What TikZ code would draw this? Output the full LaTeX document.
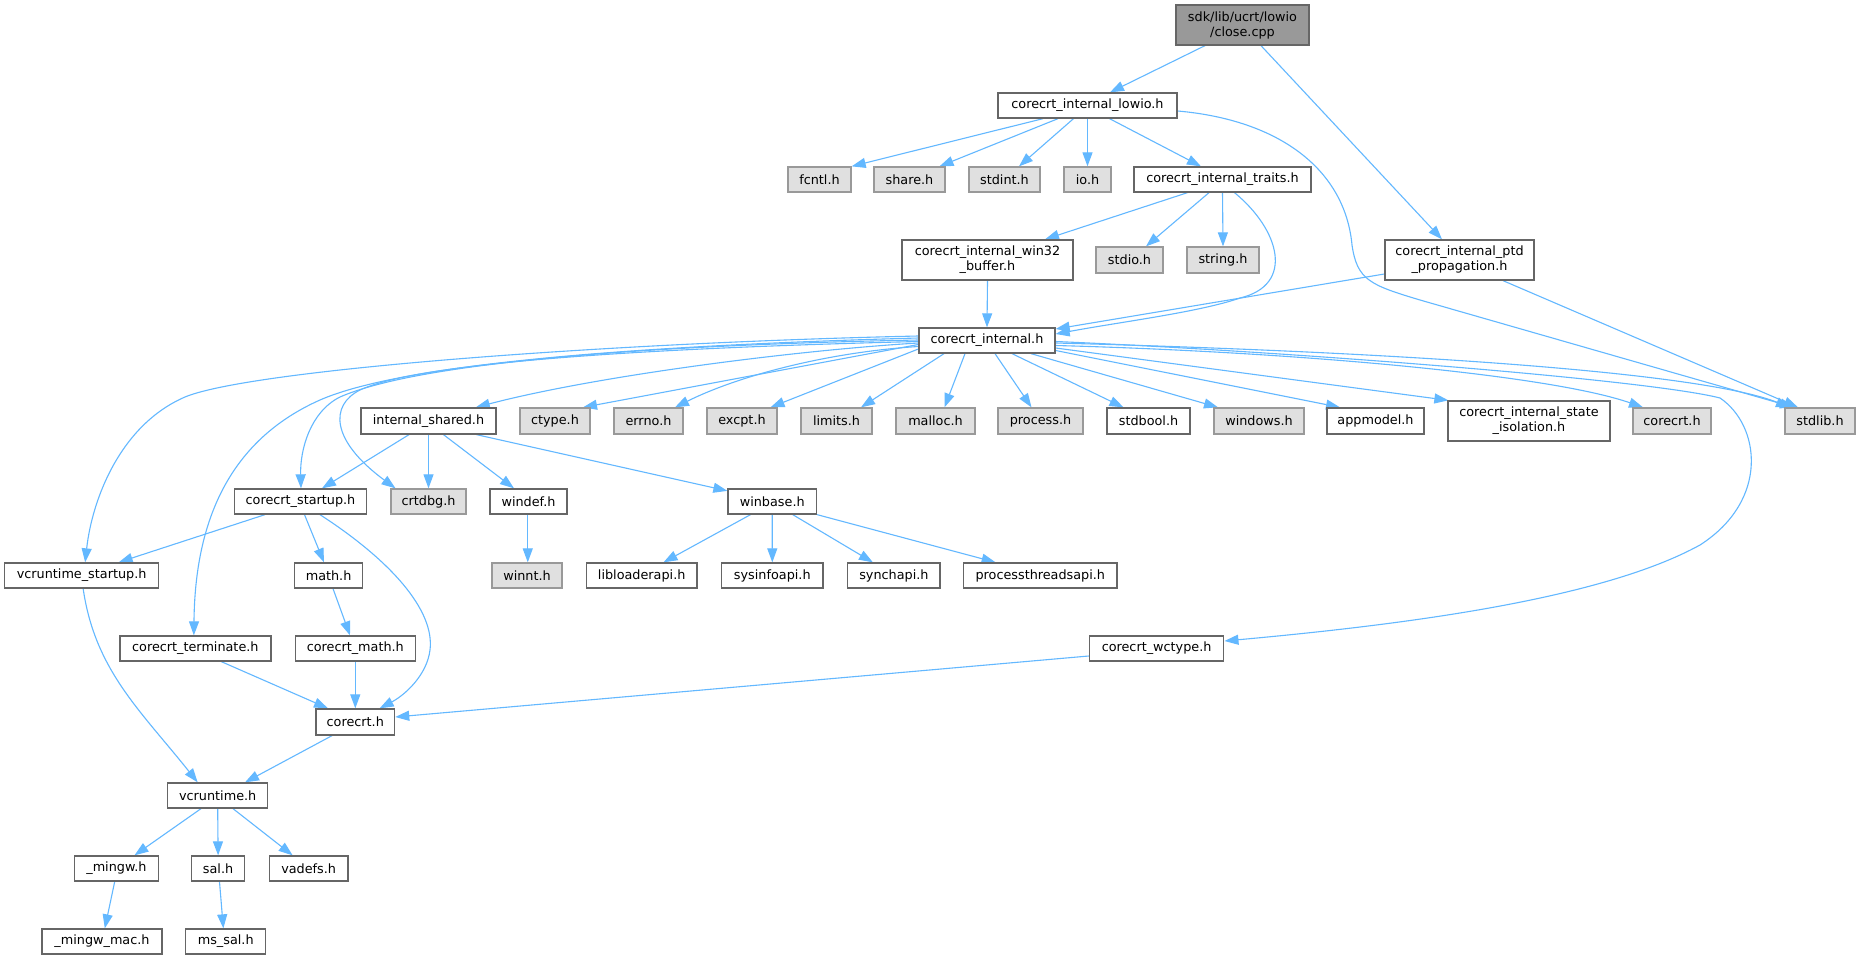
\documentclass[tikz,border=0pt]{standalone}
\usepackage{fontspec}
\setmainfont{DejaVu Sans}
\usetikzlibrary{arrows.meta}
\definecolor{eb}{HTML}{63B8FF}
\definecolor{c66}{HTML}{666666}
\definecolor{c99}{HTML}{999999}
\definecolor{cE0}{HTML}{E0E0E0}
\newcommand\nodefont{\fontsize{12.8}{15}\selectfont}
\pgfdeclarelayer{bg}
\pgfdeclarelayer{paper}
\pgfsetlayers{paper,bg,main}
\tikzset{
  base/.style={rectangle, inner sep=0pt, font=\nodefont, text=black, align=center},
  wbox/.style={base, draw=c66, fill=white, line width=1.3pt},
  gbox/.style={base, draw=c99, fill=cE0, line width=1.3pt},
  rbox/.style={base, draw=c66, fill=c99, line width=1.3pt},
  edge/.style={draw=eb, line width=1.1pt, -{Triangle[length=14pt,width=10pt]}},
  sz/.style 2 args={minimum width=#1pt, minimum height=#2pt}
}
\begin{document}
\begin{tikzpicture}[x=1pt,y=-1pt]
\begin{pgfonlayer}{paper}
\fill[white] (0,0) rectangle (1871,960);
\end{pgfonlayer}
\useasboundingbox (0,0) rectangle (1871,960);
% nodes
\node[rbox, sz={133}{40}] (root) at (1242.5,25) {sdk/lib/ucrt/lowio\\/close.cpp};
\node[wbox, sz={179}{25}] (lowio) at (1087.5,105.5) {corecrt\_internal\_lowio.h};
\node[gbox, sz={63}{25}] (fcntl) at (819.5,179.5) {fcntl.h};
\node[gbox, sz={71}{25}] (share) at (909.5,179.5) {share.h};
\node[gbox, sz={71}{25}] (stdint) at (1004.5,179.5) {stdint.h};
\node[gbox, sz={47}{25}] (io) at (1087.5,179.5) {io.h};
\node[wbox, sz={177}{25}] (traits) at (1222.5,179.5) {corecrt\_internal\_traits.h};
\node[wbox, sz={171}{40}] (win32) at (987.5,260) {corecrt\_internal\_win32\\\_buffer.h};
\node[gbox, sz={67}{26}] (stdio) at (1129.5,260) {stdio.h};
\node[gbox, sz={72}{26}] (nstring) at (1223,260) {string.h};
\node[wbox, sz={149}{40}] (ptd) at (1459.5,260) {corecrt\_internal\_ptd\\\_propagation.h};
\node[wbox, sz={136}{25}] (cint) at (987,340.5) {corecrt\_internal.h};
\node[wbox, sz={135}{26}] (ishared) at (428.5,421) {internal\_shared.h};
\node[gbox, sz={70}{26}] (ctype) at (555,421) {ctype.h};
\node[gbox, sz={69}{26}] (errno) at (648.5,421) {errno.h};
\node[gbox, sz={70}{26}] (excpt) at (742,421) {excpt.h};
\node[gbox, sz={71}{26}] (limits) at (836.5,421) {limits.h};
\node[gbox, sz={79}{26}] (malloc) at (935.5,421) {malloc.h};
\node[gbox, sz={85}{26}] (nprocess) at (1040.5,421) {process.h};
\node[wbox, sz={83}{26}] (stdbool) at (1148.5,421) {stdbool.h};
\node[gbox, sz={90}{26}] (nwindows) at (1259,421) {windows.h};
\node[wbox, sz={97}{26}] (appmodel) at (1375.5,421) {appmodel.h};
\node[wbox, sz={162}{40}] (stateiso) at (1529,421) {corecrt\_internal\_state\\\_isolation.h};
\node[gbox, sz={78}{26}] (corecrtg) at (1672,421) {corecrt.h};
\node[gbox, sz={70}{26}] (stdlib) at (1820,421) {stdlib.h};
\node[wbox, sz={132}{25}] (cstartup) at (300.5,501.5) {corecrt\_startup.h};
\node[gbox, sz={75}{25}] (crtdbg) at (428.5,501.5) {crtdbg.h};
\node[wbox, sz={77}{25}] (windef) at (528.5,501.5) {windef.h};
\node[wbox, sz={88.5}{25}] (winbase) at (772.25,501.5) {winbase.h};
\node[wbox, sz={154}{25}] (vstartup) at (81.65,575.5) {vcruntime\_startup.h};
\node[wbox, sz={68}{25}] (nmath) at (328.6,575.5) {math.h};
\node[gbox, sz={70}{25}] (winnt) at (527,575.5) {winnt.h};
\node[wbox, sz={110.6}{25}] (libloader) at (641.7,575.5) {libloaderapi.h};
\node[wbox, sz={101.4}{25}] (sysinfo) at (772.3,575.5) {sysinfoapi.h};
\node[wbox, sz={92.2}{25}] (synch) at (893.9,575.5) {synchapi.h};
\node[wbox, sz={153.4}{25}] (pthreads) at (1040.3,575.5) {processthreadsapi.h};
\node[wbox, sz={134.4}{25}] (wctype) at (1156.6,648.5) {corecrt\_wctype.h};
\node[wbox, sz={151}{25}] (cterm) at (195.35,648.5) {corecrt\_terminate.h};
\node[wbox, sz={120}{25}] (cmath) at (355.3,648.5) {corecrt\_math.h};
\node[wbox, sz={78.6}{26}] (corecrt) at (355.3,722) {corecrt.h};
\node[wbox, sz={100}{25}] (vcrt) at (217.7,795.5) {vcruntime.h};
\node[wbox, sz={84.3}{25}] (mingw) at (116.45,868.5) {\_mingw.h};
\node[wbox, sz={53.4}{25}] (sal) at (218.1,868.5) {sal.h};
\node[wbox, sz={78.7}{25}] (vadefs) at (308.65,868.5) {vadefs.h};
\node[wbox, sz={120.2}{25}] (mingwmac) at (102,941.5) {\_mingw\_mac.h};
\node[wbox, sz={80}{25}] (mssal) at (225.75,941.5) {ms\_sal.h};
% edges
\begin{pgfonlayer}{bg}
\draw[edge] ([xshift=-37.5]root.south) -- ([xshift=22.5]lowio.north);
\draw[edge] ([xshift=18.5]root.south) -- ([xshift=-17.5]ptd.north);
\draw[edge] ([xshift=-44.5]lowio.south) -- (fcntl.north east);
\draw[edge] ([xshift=-29.5]lowio.south) -- ([xshift=30]share.north);
\draw[edge] ([xshift=-14]lowio.south) -- ([xshift=14.5]stdint.north);
\draw[edge] (lowio.south) -- (io.north);
\draw[edge] ([xshift=22]lowio.south) -- ([xshift=-21.5]traits.north);
\draw[edge] ([yshift=-5.5]lowio.east) .. controls (1280,120) and (1345,170) .. (1352,245) .. controls (1357,280) and (1370,285) .. (1420,300) -- ([xshift=-26]stdlib.north);
\draw[edge] ([yshift=-14]ptd.west) -- ([yshift=11.5]cint.east);
\draw[edge] ([xshift=43.5]ptd.south) -- ([xshift=-22]stdlib.north);
\draw[edge] ([xshift=-35]traits.south) -- ([xshift=57.5]win32.north);
\draw[edge] ([xshift=-13.5]traits.south) -- ([xshift=16.5]stdio.north);
\draw[edge] (traits.south) -- (nstring.north);
\draw[edge] ([xshift=12]traits.south) .. controls (1280,230) and (1295,285) .. (1240,298) .. controls (1200,312) and (1120,322) .. ([yshift=6.5]cint.east);
\draw[edge] (win32.south) -- (cint.north);
% corecrt_internal.h
\draw[edge] ([yshift=-2.5]cint.west) .. controls (800,350) and (600,375) .. ([xshift=47.3]ishared.north);
\draw[edge] ([yshift=-4]cint.west) -- ([xshift=28]ctype.north);
\draw[edge] ([yshift=-6]cint.west) .. controls (830,352) and (740,375) .. ([xshift=26.5]errno.north);
\draw[edge] ([yshift=-8.5]cint.west) -- ([xshift=28.5]excpt.north);
\draw[edge] ([xshift=-43]cint.south) -- ([xshift=24.5]limits.north);
\draw[edge] ([xshift=-22]cint.south) -- ([xshift=9]malloc.north);
\draw[edge] ([xshift=8]cint.south) -- ([xshift=-9]nprocess.north);
\draw[edge] ([xshift=25]cint.south) -- ([xshift=-25]stdbool.north);
\draw[edge] ([xshift=44]cint.south) -- ([xshift=-41]nwindows.north);
\draw[edge] ([yshift=-10]cint.east) -- ([xshift=-35.5]appmodel.north);
\draw[edge] ([yshift=-7.5]cint.east) -- ([xshift=1]stateiso.north west);
\draw[edge] ([yshift=-5]cint.east) .. controls (1300,352) and (1550,375) .. ([xshift=-29]corecrtg.north);
\draw[edge] ([yshift=-2.5]cint.east) .. controls (1400,352) and (1700,372) .. ([xshift=-30]stdlib.north);
\draw[edge] ([yshift=-1]cint.east) .. controls (1300,352) and (1650,380) .. (1720,398) .. controls (1760,425) and (1770,500) .. (1700,545) .. controls (1600,600) and (1400,625) .. ([yshift=7.5]wctype.east);
\draw[edge] ([yshift=4.5]cint.west) .. controls (600,343) and (250,370) .. (185,397) .. controls (120,425) and (92,500) .. ([xshift=3.5]vstartup.north);
\draw[edge] ([yshift=2.5]cint.west) .. controls (620,346) and (400,365) .. (320,400) .. controls (230,440) and (195,520) .. ([xshift=-1.5]cterm.north);
\draw[edge] ([yshift=0.5]cint.west) .. controls (650,345) and (420,362) .. (340,397) .. controls (310,412) and (300,450) .. ([xshift=0.5]cstartup.north);
\draw[edge] ([yshift=-1]cint.west) .. controls (650,348) and (420,362) .. (360,390) .. controls (330,405) and (330,440) .. ([xshift=-33]crtdbg.north);
% internal_shared.h
\draw[edge] ([xshift=-19.5]ishared.south) -- ([xshift=21.5]cstartup.north);
\draw[edge] (ishared.south) -- (crtdbg.north);
\draw[edge] ([xshift=15]ishared.south) -- ([xshift=-14.5]windef.north);
\draw[edge] ([xshift=48]ishared.south) -- ([yshift=-2.5]winbase.north west);
% corecrt_startup.h
\draw[edge] ([xshift=-35.5]cstartup.south) -- ([xshift=37]vstartup.north);
\draw[edge] ([xshift=4]cstartup.south) -- ([xshift=-4.6]nmath.north);
\draw[edge] ([xshift=19.5]cstartup.south) .. controls (390,560) and (435,610) .. (430,650) .. controls (427,675) and (405,695) .. ([xshift=24.3]corecrt.north);
\draw[edge] ([xshift=-0.75]windef.south) -- ([xshift=0.75]winnt.north);
% winbase.h
\draw[edge] ([xshift=-21.75]winbase.south) -- ([xshift=21.8]libloader.north);
\draw[edge] (winbase.south) -- (sysinfo.north);
\draw[edge] ([xshift=20.5]winbase.south) -- ([xshift=-21]synch.north);
\draw[edge] (winbase.south east) -- ([xshift=-44.7]pthreads.north);
% lower part
\draw[edge] ([xshift=1.5]vstartup.south) .. controls (95,670) and (140,710) .. ([xshift=-20]vcrt.north);
\draw[edge] ([xshift=4.4]nmath.south) -- ([xshift=-5.3]cmath.north);
\draw[edge] ([xshift=26]cterm.south) -- ([xshift=-27.3]corecrt.north);
\draw[edge] (cmath.south) -- (corecrt.north);
\draw[edge] ([yshift=-7.5]wctype.west) -- ([yshift=5]corecrt.east);
\draw[edge] ([xshift=-23.3]corecrt.south) -- ([xshift=27.3]vcrt.north);
\draw[edge] ([xshift=-16.7]vcrt.south) -- ([xshift=18]mingw.north);
\draw[edge] (vcrt.south) -- (sal.north);
\draw[edge] ([xshift=15.3]vcrt.south) -- ([xshift=-16]vadefs.north);
\draw[edge] ([xshift=-1.75]mingw.south) -- ([xshift=2.8]mingwmac.north);
\draw[edge] ([xshift=1.4]sal.south) -- ([xshift=-2.4]mssal.north);
\end{pgfonlayer}
\end{tikzpicture}
\end{document}
